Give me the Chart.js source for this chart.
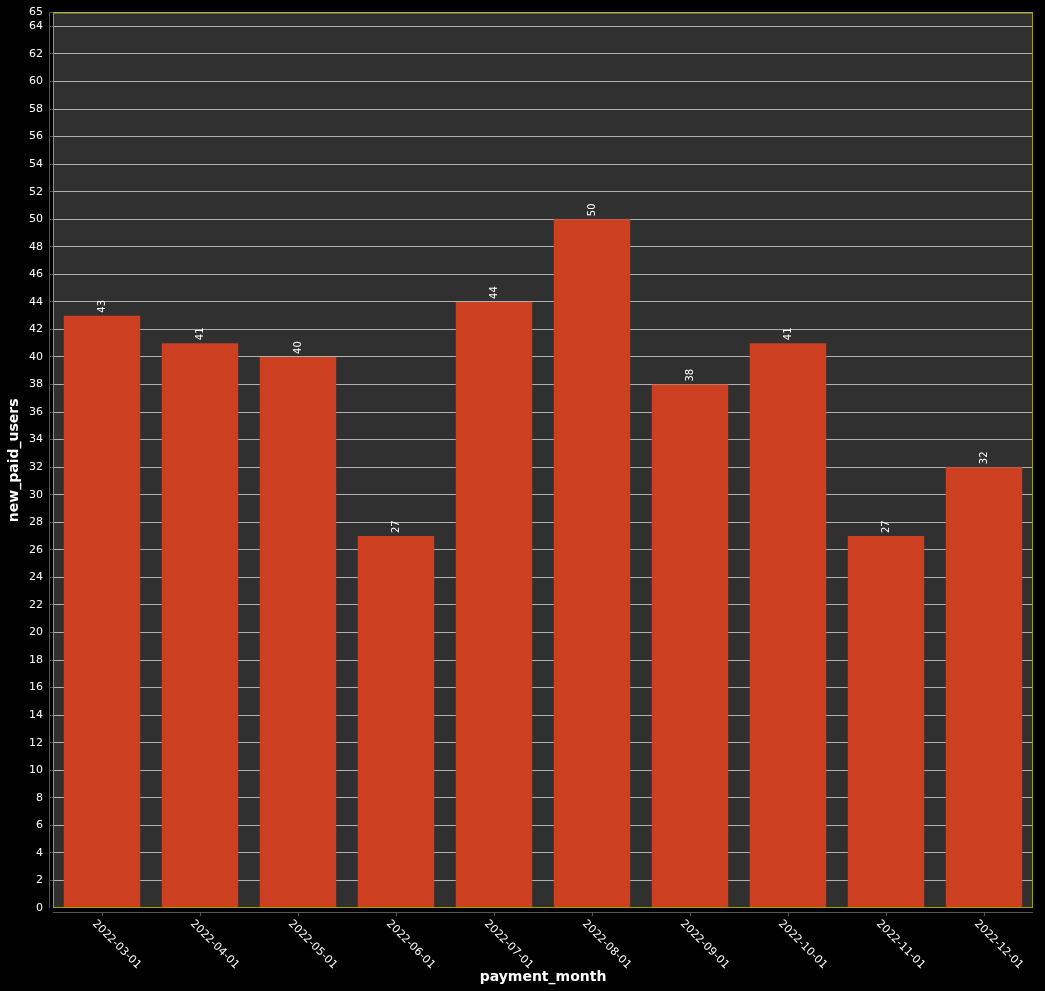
<!DOCTYPE html>
<html><head><meta charset="utf-8">
<script src="https://cdn.jsdelivr.net/npm/chart.js@4/dist/chart.umd.min.js"></script>
<style>html,body{margin:0;padding:0;background:#000;}#wrap{width:1045px;height:991px;}</style>
</head><body><div id="wrap"><canvas id="c" width="1045" height="991"></canvas></div>
<script>
const categories = ["2022-03-01","2022-04-01","2022-05-01","2022-06-01","2022-07-01","2022-08-01","2022-09-01","2022-10-01","2022-11-01","2022-12-01"];
const newPaidUsers = [43,41,40,27,44,50,38,41,27,32];
const FONT = "'DejaVu Sans', sans-serif";

const deco = {
  id:'deco',
  beforeDraw(ch){
    const {ctx, chartArea:a} = ch;
    ctx.save();
    ctx.fillStyle='#000'; ctx.fillRect(0,0,ch.width,ch.height);
    ctx.fillStyle='#303030'; ctx.fillRect(a.left,a.top,a.right-a.left,a.bottom-a.top);
    ctx.restore();
  },
  afterDraw(ch){
    const {ctx, chartArea:a} = ch;
    const x = ch.scales.x, y = ch.scales.y;
    ctx.save();
    ctx.strokeStyle='#a0a000'; ctx.lineWidth=1;
    ctx.strokeRect(a.left+0.5,a.top+0.5,a.right-a.left-1,a.bottom-a.top-1);
    ctx.strokeStyle='#555'; ctx.beginPath();
    ctx.moveTo(a.left-3.5,a.top); ctx.lineTo(a.left-3.5,a.bottom);
    ctx.moveTo(a.left,a.bottom+4.5); ctx.lineTo(a.right,a.bottom+4.5);
    ctx.stroke();
    // x labels
    ctx.fillStyle='#fff'; ctx.font='11px '+FONT; ctx.textAlign='left'; ctx.textBaseline='middle';
    categories.forEach((c,i)=>{
      const px = x.getPixelForValue(i);
      ctx.strokeStyle='#555'; ctx.beginPath(); ctx.moveTo(px+0.5,a.bottom+5); ctx.lineTo(px+0.5,a.bottom+8); ctx.stroke();
      ctx.save(); ctx.translate(px-8,a.bottom+14); ctx.rotate(Math.PI/4); ctx.fillText(c,0,0); ctx.restore();
    });
    // value labels
    const meta = ch.getDatasetMeta(0);
    meta.data.forEach((bar,i)=>{
      ctx.save(); ctx.translate(bar.x,bar.y-3); ctx.rotate(-Math.PI/2);
      ctx.textAlign='left'; ctx.textBaseline='middle'; ctx.font='10px '+FONT;
      ctx.fillText(String(newPaidUsers[i]),0,0); ctx.restore();
    });
    ctx.font='bold 14px '+FONT; ctx.textAlign='center'; ctx.textBaseline='middle';
    ctx.fillText('payment_month',(a.left+a.right)/2,977);
    ctx.save(); ctx.translate(14,(a.top+a.bottom)/2); ctx.rotate(-Math.PI/2);
    ctx.fillText('new_paid_users',0,0); ctx.restore();
    ctx.restore();
  }
};

new Chart(document.getElementById('c'),{
  type:'bar',
  data:{labels:categories,datasets:[{data:newPaidUsers,backgroundColor:'#cc3f20',borderWidth:0,barPercentage:0.78,categoryPercentage:1}]},
  options:{
    responsive:false,animation:false,devicePixelRatio:1,
    layout:{padding:{top:8,right:12,left:0,bottom:0}},
    plugins:{legend:{display:false},tooltip:{enabled:false}},
    scales:{
      x:{grid:{display:false},border:{display:false},ticks:{display:false},
         afterFit(s){s.height=83;}},
      y:{min:0,max:65,border:{display:false},
         ticks:{stepSize:2,color:'#fff',font:{size:11,family:FONT},padding:6},
         grid:{color:'rgba(210,210,210,0.8)',drawTicks:true,tickLength:4,tickColor:'#555',
               lineWidth:c=>(c.tick&&c.tick.value===0)?0:1},
         afterFit(s){s.width=53;}}
    }
  },
  plugins:[deco]
});
// dashed grid
Chart.defaults.borderDash=[];
</script></body></html>
